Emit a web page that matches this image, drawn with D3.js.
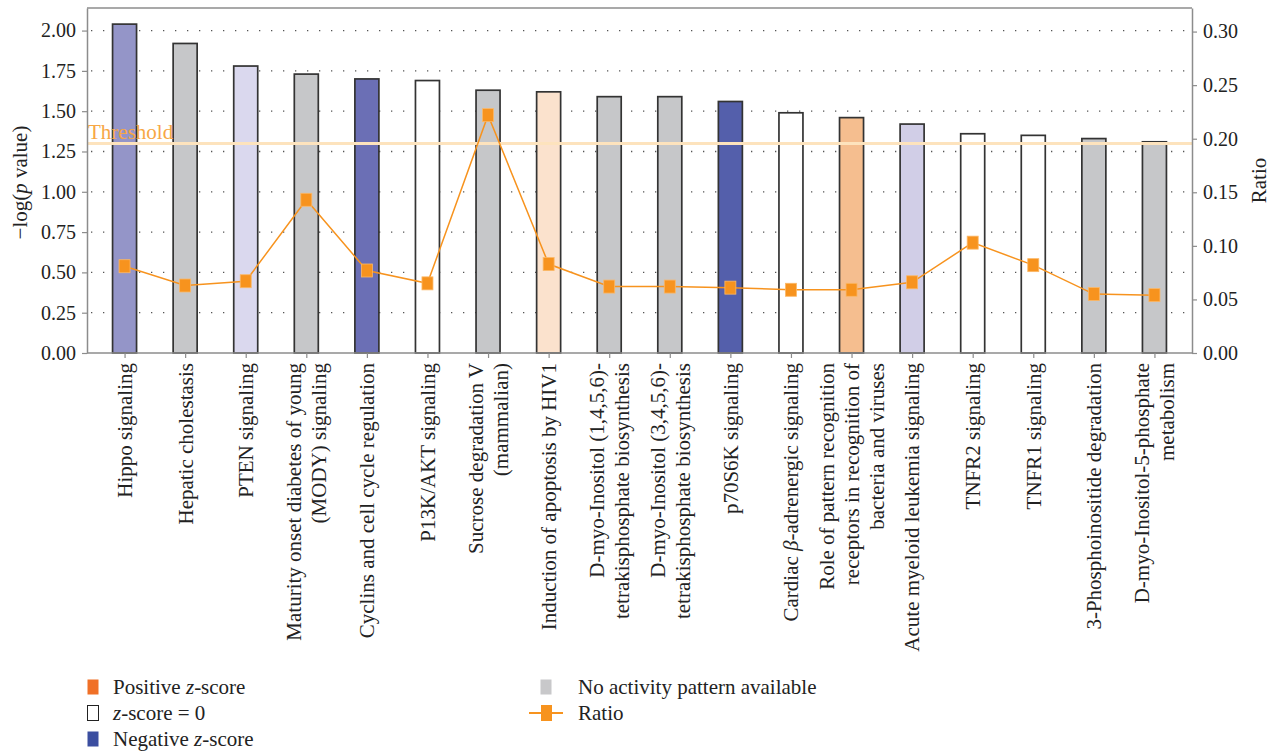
<!DOCTYPE html>
<html>
<head>
<meta charset="utf-8">
<script src="https://cdn.jsdelivr.net/npm/d3@7"></script>
<style>
  html, body { margin: 0; padding: 0; background: #fff; }
  svg { display: block; font-family: "Liberation Serif", "DejaVu Serif", serif; }
  svg text { font-family: "Liberation Serif", "DejaVu Serif", serif; }
</style>
</head>
<body>
<svg id="chart" width="1275" height="752"></svg>
<script>
// ---------- data ----------
const categories = [
  ["Hippo signaling"],
  ["Hepatic cholestasis"],
  ["PTEN signaling"],
  ["Maturity onset diabetes of young", "(MODY) signaling"],
  ["Cyclins and cell cycle regulation"],
  ["P13K/AKT signaling"],
  ["Sucrose degradation V", "(mammalian)"],
  ["Induction of apoptosis by HIV1"],
  ["D-myo-Inositol (1,4,5,6)-", "tetrakisphosphate biosynthesis"],
  ["D-myo-Inositol (3,4,5,6)-", "tetrakisphosphate biosynthesis"],
  ["p70S6K signaling"],
  ["Cardiac β-adrenergic signaling"],
  ["Role of pattern recognition", "receptors in recognition of", "bacteria and viruses"],
  ["Acute myeloid leukemia signaling"],
  ["TNFR2 signaling"],
  ["TNFR1 signaling"],
  ["3-Phosphoinositide degradation"],
  ["D-myo-Inositol-5-phosphate", "metabolism"]
];
const logP = [2.04, 1.92, 1.78, 1.73, 1.70, 1.69, 1.63, 1.62, 1.59, 1.59, 1.56, 1.49, 1.46, 1.42, 1.36, 1.35, 1.33, 1.31];
const ratio = [0.081, 0.063, 0.067, 0.143, 0.077, 0.065, 0.222, 0.083, 0.062, 0.062, 0.061, 0.059, 0.059, 0.066, 0.103, 0.082, 0.055, 0.054];
const barColors = ["#9495c8", "#c6c7c9", "#dad8ee", "#c6c7c9", "#6b6fb5", "#ffffff", "#c6c7c9", "#fbe2cd", "#c6c7c9", "#c6c7c9", "#545fab", "#ffffff", "#f5be8f", "#d1cee7", "#ffffff", "#ffffff", "#c6c7c9", "#c6c7c9"];
const leftTicks = [0, 0.25, 0.5, 0.75, 1.0, 1.25, 1.5, 1.75, 2.0];
const rightTicks = [0, 0.05, 0.10, 0.15, 0.20, 0.25, 0.30];
const threshold = 1.3;
const legendItems = [
  { label: ["Positive ", "z", "-score"], type: "swatch", color: "#f07027", col: 0, row: 0 },
  { label: ["", "z", "-score = 0"], type: "swatch", color: "#ffffff", col: 0, row: 1 },
  { label: ["Negative ", "z", "-score"], type: "swatch", color: "#3b4ea0", col: 0, row: 2 },
  { label: ["No activity pattern available"], type: "swatch", color: "#c8c8ca", col: 1, row: 0 },
  { label: ["Ratio"], type: "line", color: "#f7931e", col: 1, row: 1 }
];

// ---------- layout ----------
const svg = d3.select("#chart");
const L = 87, R = 1192, T = 8, B = 353;
const axisColor = "#8c8c8c";
const fontSize = 20;
const labelSize = 21;
const serif = "Liberation Serif, DejaVu Serif, serif";

const x = d3.scalePoint().domain(d3.range(categories.length)).range([L, R]).padding(0.62);
const y = d3.scaleLinear().domain([0, 2.14]).range([B, T]);
const y2 = d3.scaleLinear().domain([0, 0.322]).range([B, T]);
const barW = 24;

// grid (dotted)
svg.append("g").selectAll("line").data(leftTicks.filter(d => d > 0)).join("line")
  .attr("x1", L + 4).attr("x2", R - 2)
  .attr("y1", d => y(d)).attr("y2", d => y(d))
  .attr("stroke", "#555").attr("stroke-width", 1.3)
  .attr("stroke-dasharray", "1.3 10.7");

// bars
svg.append("g").selectAll("rect").data(logP).join("rect")
  .attr("x", (d, i) => x(i) - barW / 2)
  .attr("y", d => y(d))
  .attr("width", barW)
  .attr("height", d => B - y(d))
  .attr("fill", (d, i) => barColors[i])
  .attr("stroke", "#333").attr("stroke-width", 1.7);

// threshold
svg.append("line")
  .attr("x1", L).attr("x2", R)
  .attr("y1", y(threshold)).attr("y2", y(threshold))
  .attr("stroke", "#fde3bd").attr("stroke-width", 3);
svg.append("text")
  .attr("x", L + 1).attr("y", y(threshold) - 4)
  .attr("fill", "#f7a745").attr("font-size", labelSize)
  .text("Threshold");

// ratio line + markers
const line = d3.line().x((d, i) => x(i)).y(d => y2(d));
svg.append("path").datum(ratio)
  .attr("d", line).attr("fill", "none")
  .attr("stroke", "#f7931e").attr("stroke-width", 1.5);
svg.append("g").selectAll("rect").data(ratio).join("rect")
  .attr("x", (d, i) => x(i) - 5.5)
  .attr("y", d => y2(d) - 6.5)
  .attr("width", 11).attr("height", 13)
  .attr("fill", "#f7931e").attr("stroke", "#fbb868").attr("stroke-width", 0.8);

// frame
svg.append("line").attr("x1", L).attr("x2", R).attr("y1", T).attr("y2", T)
  .attr("stroke", axisColor).attr("stroke-width", 1.5);

// axes
function styleAxis(g) {
  g.attr("font-family", serif).attr("font-size", fontSize);
  g.selectAll(".domain").attr("stroke", axisColor).attr("stroke-width", 1.5);
  g.selectAll(".tick line").attr("stroke", axisColor).attr("stroke-width", 1.2);
  g.selectAll(".tick text").attr("fill", "#222").attr("font-size", fontSize)
    .attr("font-family", serif);
}
const gl = svg.append("g").attr("transform", `translate(${L},0)`)
  .call(d3.axisLeft(y).tickValues(leftTicks).tickFormat(d3.format(".2f")).tickSize(5).tickPadding(6).tickSizeOuter(0));
styleAxis(gl);
const gr = svg.append("g").attr("transform", `translate(${R},0)`)
  .call(d3.axisRight(y2).tickValues(rightTicks).tickFormat(d3.format(".2f")).tickSize(5).tickPadding(6).tickSizeOuter(0));
styleAxis(gr);
const gx = svg.append("g").attr("transform", `translate(0,${B})`)
  .call(d3.axisBottom(x).tickSize(5).tickSizeOuter(0).tickFormat(""));
styleAxis(gx);
gx.select(".domain").attr("d", `M${L},0H${R}`);

// category labels (rotated, multi-line)
const lineH = 1.18;
const labelG = svg.append("g");
categories.forEach((lines, i) => {
  const n = lines.length;
  const t = labelG.append("text")
    .attr("transform", `translate(${x(i)},${B + 10}) rotate(-90)`)
    .attr("text-anchor", "end")
    .attr("font-size", labelSize)
    .attr("fill", "#222");
  lines.forEach((s, j) => {
    const tl = t.append("tspan").attr("x", 0)
      .attr("y", 0)
      .attr("dy", (0.35 + (j - (n - 1) / 2) * lineH) + "em");
    const parts = s.split(/(β)/);
    parts.forEach(p => {
      if (!p) return;
      const sp = tl.append("tspan").text(p);
      if (p === "β") sp.attr("font-style", "italic");
    });
  });
});

// axis titles
const yt = svg.append("text")
  .attr("transform", `translate(27,${(T + B) / 2 + 2}) rotate(-90)`)
  .attr("text-anchor", "middle").attr("font-size", labelSize).attr("fill", "#222");
yt.append("tspan").text("−log(");
yt.append("tspan").attr("font-style", "italic").text("p");
yt.append("tspan").text(" value)");
svg.append("text")
  .attr("transform", `translate(1266,${(T + B) / 2}) rotate(-90)`)
  .attr("text-anchor", "middle").attr("font-size", labelSize).attr("fill", "#222")
  .text("Ratio");

// legend
const legCols = [87, 540];
const legTop = 679, legRow = 26;
const lg = svg.append("g");
legendItems.forEach(it => {
  const lx = legCols[it.col], ly = legTop + it.row * legRow;
  if (it.type === "swatch") {
    lg.append("rect").attr("x", lx + 0.5).attr("y", ly + 0.5).attr("width", 11).attr("height", 15)
      .attr("fill", it.color)
      .attr("stroke", it.color === "#ffffff" ? "#222" : "none").attr("stroke-width", 1);
  } else {
    lg.append("line").attr("x1", lx - 11).attr("x2", lx + 23).attr("y1", ly + 8).attr("y2", ly + 8)
      .attr("stroke", it.color).attr("stroke-width", 2);
    lg.append("rect").attr("x", lx + 1).attr("y", ly).attr("width", 11).attr("height", 16)
      .attr("fill", it.color);
  }
  const tx = lg.append("text").attr("x", lx + (it.col === 0 ? 26 : 38)).attr("y", ly + 14.5)
    .attr("font-size", labelSize).attr("fill", "#222");
  it.label.forEach((p, k) => {
    if (!p) return;
    const sp = tx.append("tspan").text(p);
    if (k === 1) sp.attr("font-style", "italic");
  });
});
</script>
</body>
</html>
